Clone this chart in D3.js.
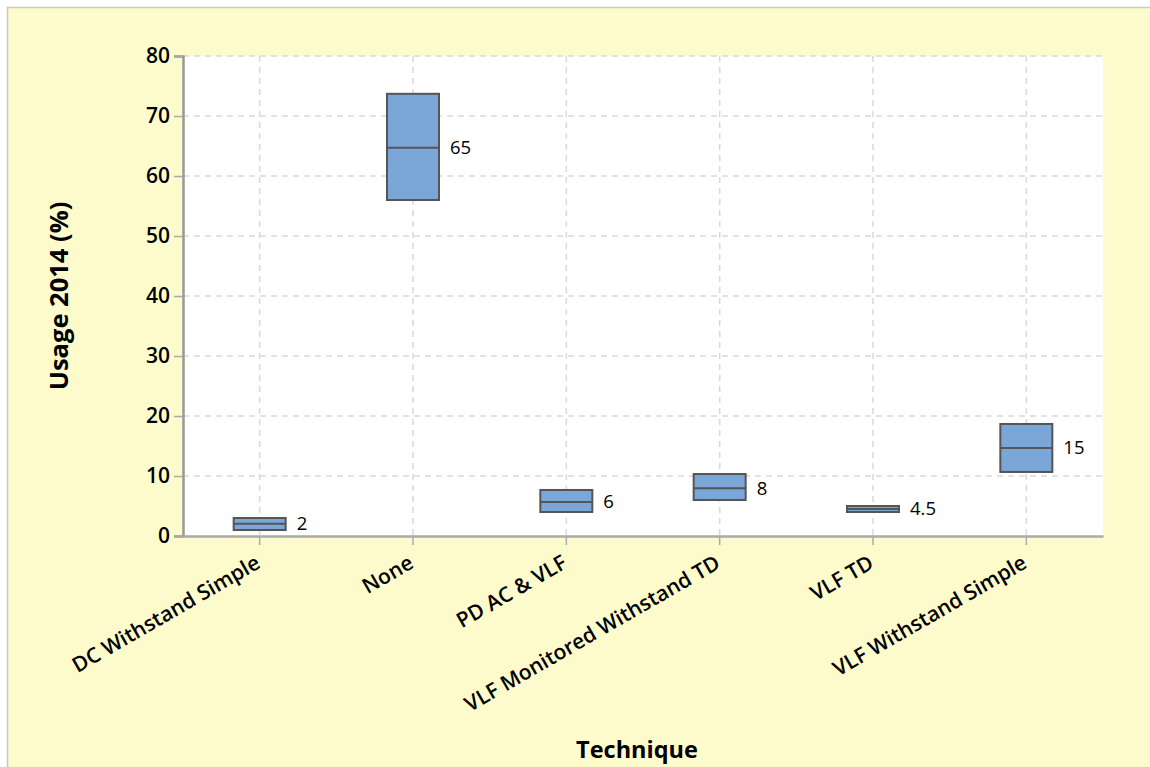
<!DOCTYPE html>
<html>
<head>
<meta charset="utf-8">
<script src="https://cdn.jsdelivr.net/npm/d3@7"></script>
<style>
body { margin: 0; background: #fff; }
text { font-family: "Open Sans", "Noto Sans", sans-serif; fill: #000; }
</style>
</head>
<body>
<div id="chart"></div>
<script>
var techniques = ["DC Withstand Simple", "None", "PD AC & VLF", "VLF Monitored Withstand TD", "VLF TD", "VLF Withstand Simple"];
var lowValues = [1.0, 56.0, 4.0, 6.0, 4.0, 10.67];
var highValues = [3.0, 73.7, 7.67, 10.33, 5.0, 18.67];
var midValues = [2.05, 64.7, 5.67, 7.95, 4.5, 14.67];
var midLabels = ["2", "65", "6", "8", "4.5", "15"];
var yTicks = [0, 10, 20, 30, 40, 50, 60, 70, 80];

var data = techniques.map(function(t, i) {
  return {name: t, low: lowValues[i], high: highValues[i], mid: midValues[i], label: midLabels[i]};
});

var W = 1150, H = 767;
var margin = {top: 56, right: 47, bottom: 231, left: 183},
width = W - margin.left - margin.right,
height = H - margin.top - margin.bottom;

var root = d3.select("#chart").append("svg")
.attr("width", W)
.attr("height", H);

// panel background with border
root.append("rect")
.attr("x", 7.5).attr("y", 7.5)
.attr("width", W).attr("height", H)
.attr("fill", "#fdfbcc")
.attr("stroke", "#c8c8c8")
.attr("stroke-width", 1.5);

var svg = root.append("g")
.attr("transform", "translate(" + margin.left + "," + margin.top + ")");

svg.append("rect")
.attr("width", width).attr("height", height)
.attr("fill", "#fff");

var x = d3.scaleBand()
.domain(techniques)
.range([0, width]);

var y = d3.scaleLinear()
.domain([0, 80])
.range([height, 0]);

// grid
svg.append("g").selectAll("line.gy")
.data(yTicks.slice(1))
.enter().append("line")
.attr("x1", 0).attr("x2", width)
.attr("y1", function(d) { return y(d); })
.attr("y2", function(d) { return y(d); })
.attr("stroke", "#d9d9d9")
.attr("stroke-width", 1.5)
.attr("stroke-dasharray", "6,5");

svg.append("g").selectAll("line.gx")
.data(techniques)
.enter().append("line")
.attr("x1", function(d) { return x(d) + x.bandwidth() / 2; })
.attr("x2", function(d) { return x(d) + x.bandwidth() / 2; })
.attr("y1", 0).attr("y2", height)
.attr("stroke", "#d9d9d9")
.attr("stroke-width", 1.5)
.attr("stroke-dasharray", "6,5");

// axes
var yAxis = svg.append("g")
.call(d3.axisLeft(y).tickValues(yTicks).tickSize(9).tickPadding(4));
yAxis.select(".domain").attr("stroke", "#999").attr("stroke-width", 2.5);
yAxis.selectAll(".tick line").attr("stroke", "#aaa").attr("stroke-width", 1.5);
yAxis.selectAll(".tick text")
.style("font-size", "21px")
.style("font-weight", 600);

var xAxis = svg.append("g")
.attr("transform", "translate(0," + height + ")")
.call(d3.axisBottom(x).tickSize(9).tickPadding(4).tickSizeOuter(0));
xAxis.select(".domain").attr("stroke", "#aaa").attr("stroke-width", 2.5);
xAxis.selectAll(".tick line").attr("stroke", "#aaa").attr("stroke-width", 1.5);
xAxis.selectAll(".tick text")
.style("font-size", "21px")
.style("font-weight", 600)
.attr("text-anchor", "end")
.attr("x", 0).attr("y", 0)
.attr("dy", null)
.attr("transform", "translate(2,31) rotate(-30)");

// boxes
var bw = 52;
var boxes = svg.append("g").selectAll("g.box")
.data(data)
.enter().append("g");

boxes.append("rect")
.attr("x", function(d) { return x(d.name) + x.bandwidth() / 2 - bw / 2; })
.attr("y", function(d) { return y(d.high); })
.attr("width", bw)
.attr("height", function(d) { return y(d.low) - y(d.high); })
.attr("fill", "#7aa6d8")
.attr("stroke", "#555")
.attr("stroke-width", 2);

boxes.append("line")
.attr("x1", function(d) { return x(d.name) + x.bandwidth() / 2 - bw / 2; })
.attr("x2", function(d) { return x(d.name) + x.bandwidth() / 2 + bw / 2; })
.attr("y1", function(d) { return y(d.mid); })
.attr("y2", function(d) { return y(d.mid); })
.attr("stroke", "#555")
.attr("stroke-width", 2);

boxes.append("text")
.attr("x", function(d) { return x(d.name) + x.bandwidth() / 2 + bw / 2 + 11; })
.attr("y", function(d) { return y(d.mid); })
.attr("dy", "0.35em")
.style("font-size", "18.5px")
.text(function(d) { return d.label; });

// axis titles
root.append("text")
.attr("x", margin.left + width / 2 - 6)
.attr("y", 758)
.attr("text-anchor", "middle")
.style("font-size", "23.5px")
.style("font-weight", 700)
.text("Technique");

root.append("text")
.attr("transform", "translate(68," + (margin.top + height / 2) + ") rotate(-90)")
.attr("text-anchor", "middle")
.style("font-size", "25.5px")
.style("font-weight", 700)
.text("Usage 2014 (%)");
</script>
</body>
</html>
